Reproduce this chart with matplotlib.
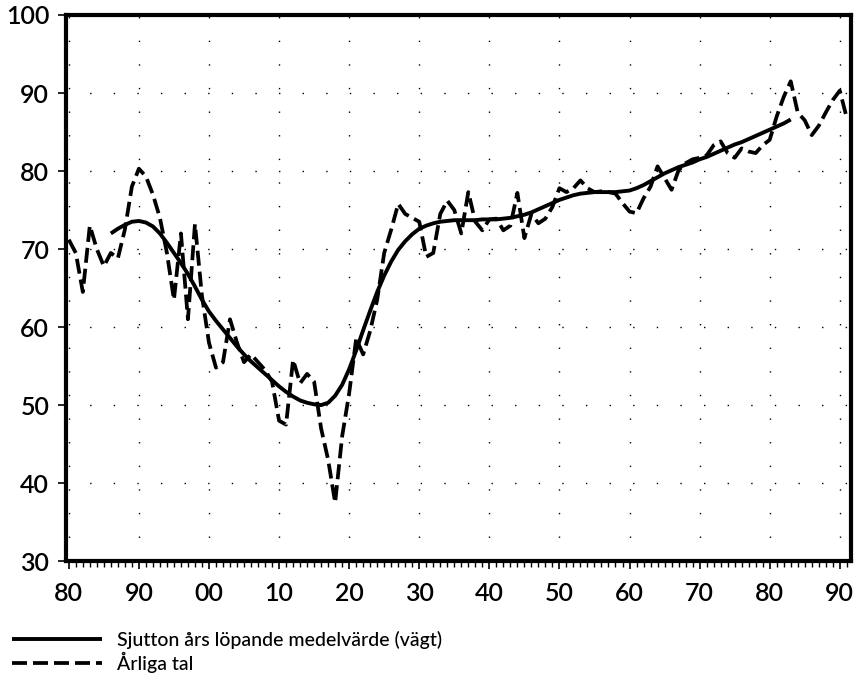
import matplotlib
matplotlib.use("Agg")
import matplotlib.pyplot as plt
from matplotlib.ticker import MultipleLocator, FuncFormatter

# Årliga tal
years = list(range(1880, 1992))
annual = [71.2, 69.5, 64.5, 73.0, 70.0, 67.8, 69.5, 68.8, 72.5, 78.0,
          80.3, 79.3, 77.0, 74.0, 69.5, 63.5, 72.0, 61.0, 73.2, 64.0,
          58.0, 54.8, 55.5, 61.0, 58.0, 55.5, 56.5, 55.5, 54.5, 53.0,
          48.0, 47.5, 55.8, 52.8, 54.0, 53.0, 47.0, 43.0, 37.5, 46.0,
          51.5, 58.5, 56.5, 59.5, 63.5, 69.5, 72.5, 75.8, 74.5, 74.0,
          73.5, 69.0, 69.5, 74.5, 76.2, 75.0, 72.0, 77.3, 73.5, 72.4,
          73.8, 73.9, 72.4, 73.0, 77.2, 71.4, 74.5, 73.3, 73.9, 75.4,
          77.8, 77.3, 77.8, 78.8, 77.8, 77.3, 77.4, 77.3, 77.1, 75.9,
          74.8, 74.6, 76.5, 78.0, 80.6, 79.1, 77.6, 80.1, 81.0, 81.5,
          81.7, 82.0, 83.3, 83.8, 82.3, 81.7, 82.9, 82.5, 82.3, 83.3,
          84.0, 87.0, 89.5, 91.5, 87.5, 86.5, 84.6, 85.8, 87.5, 89.1,
          90.3, 86.8]

# Sjutton års löpande medelvärde (vägt), avläst
ma_years = list(range(1886, 1984))
ma = [72.0, 72.6, 73.1, 73.5, 73.6, 73.4, 72.9, 72.0, 70.8, 69.5,
      68.2, 66.8, 65.2, 63.5, 62.0, 60.8, 59.7, 58.6, 57.5, 56.5,
      55.6, 54.8, 54.0, 53.2, 52.4, 51.7, 51.1, 50.6, 50.3, 50.1,
      50.0, 50.3, 51.2, 52.6, 54.6, 57.0, 59.6, 62.1, 64.5, 66.6,
      68.4, 69.9, 71.0, 71.9, 72.6, 73.0, 73.3, 73.5, 73.6, 73.7,
      73.7, 73.7, 73.7, 73.8, 73.8, 73.8, 73.9, 74.0, 74.2, 74.4,
      74.7, 75.1, 75.5, 75.9, 76.3, 76.6, 76.9, 77.1, 77.2, 77.3,
      77.3, 77.3, 77.3, 77.4, 77.5, 77.8, 78.2, 78.7, 79.2, 79.7,
      80.1, 80.5, 80.8, 81.1, 81.5, 81.8, 82.2, 82.6, 83.0, 83.4,
      83.7, 84.1, 84.5, 84.9, 85.3, 85.7, 86.1, 86.6]

labels = ["Sjutton års löpande medelvärde (vägt)", "Årliga tal"]

plt.rcParams['font.family'] = ['Lato', 'DejaVu Sans']

fig = plt.figure(figsize=(8.57, 6.81), dpi=100)
ax = fig.add_axes([0.077, 0.176, 0.916, 0.802])

l1, = ax.plot(ma_years, ma, color='black', lw=2.8, solid_capstyle='butt')
l2, = ax.plot(years, annual, color='black', lw=2.7, dashes=(4, 1.6))

ax.set_xlim(1879.6, 1991.6)
ax.set_ylim(30, 100)
ax.xaxis.set_major_locator(MultipleLocator(10))
ax.xaxis.set_minor_locator(MultipleLocator(1))
ax.yaxis.set_major_locator(MultipleLocator(10))
ax.xaxis.set_major_formatter(FuncFormatter(lambda v, p: "%02d" % (int(round(v)) % 100)))

# glest prickat rutnät
ax.grid(True, which='major', color='black', lw=1.0, linestyle=(0, (1, 16)))

for s in ax.spines.values():
    s.set_linewidth(3.0)

ax.tick_params(axis='both', which='major', labelsize=18, length=6, width=1.2, direction='out')
ax.tick_params(axis='x', which='minor', length=4, width=1.0, direction='out')
ax.tick_params(axis='x', pad=9)
ax.tick_params(axis='y', pad=6)
for t in ax.get_xticklabels() + ax.get_yticklabels():
    t.set_fontweight('semibold')

leg = fig.legend([l1, l2], labels, loc='upper left', bbox_to_anchor=(0.005, 0.085),
                 frameon=False, fontsize=14, handlelength=4.6, handletextpad=0.8,
                 labelspacing=0.15, borderaxespad=0)
for t in leg.get_texts():
    t.set_fontweight('medium')

fig.savefig("out.png", dpi=100)
